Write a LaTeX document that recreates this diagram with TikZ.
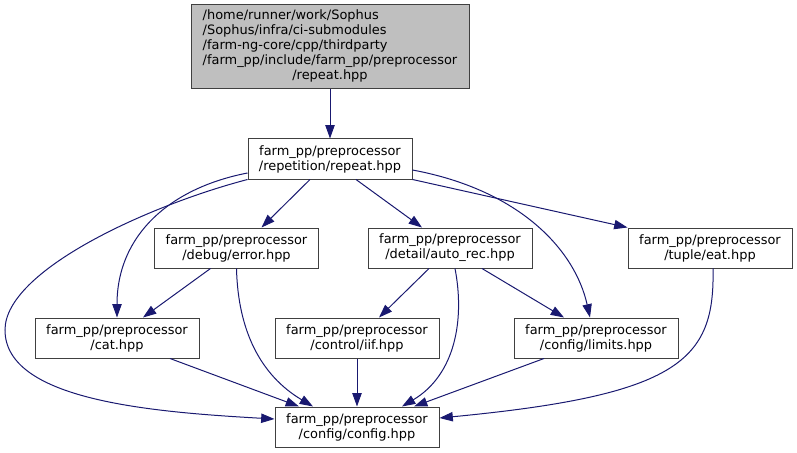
\documentclass[tikz,border=0pt]{standalone}
\usepackage{fontspec}
\setmainfont{DejaVu Sans}
\usetikzlibrary{arrows.meta,calc}
\definecolor{NodeLine}{HTML}{404040}
\definecolor{NodeGrey}{HTML}{BFBFBF}
\definecolor{EdgeBlue}{HTML}{191970}
\tikzset{
    % plain file boxes
    filebox/.style={
        rectangle,
        draw=NodeLine,
        fill=white,
        line width=0.75pt,
        minimum width=123pt,
        minimum height=30pt,
        inner sep=0pt,
        align=center,
        font=\fontsize{9.7}{11.25}\selectfont
    },
    mainbox/.style={
        filebox,
        fill=NodeGrey,
        minimum width=208.5pt,
        minimum height=63pt
    },
    edge/.style={
        -{Triangle[length=10pt,width=7pt]},
        line width=0.75pt,
        color=EdgeBlue
    }
}
\begin{document}
\begin{tikzpicture}[x=0.75pt,y=-0.75pt]
    \useasboundingbox (0,0) rectangle (797,453);
    \node[mainbox] (top) at (330,47) {%
        \begin{tabular}{@{}l@{}}
            /home/runner/work/Sophus\\
            /Sophus/infra/ci-submodules\\
            /farm-ng-core/cpp/thirdparty\\
            /farm\_pp/include/farm\_pp/preprocessor\\
            \multicolumn{1}{@{}c@{}}{/repeat.hpp}
        \end{tabular}};
    \node[filebox] (repeat) at (330,159) {farm\_pp/preprocessor\\/repetition/repeat.hpp};
    \node[filebox] (error) at (236.5,248) {farm\_pp/preprocessor\\/debug/error.hpp};
    \node[filebox] (autorec) at (450,248) {farm\_pp/preprocessor\\/detail/auto\_rec.hpp};
    \node[filebox] (eat) at (710,248) {farm\_pp/preprocessor\\/tuple/eat.hpp};
    \node[filebox] (cat) at (117,338) {farm\_pp/preprocessor\\/cat.hpp};
    \node[filebox] (iif) at (357,338) {farm\_pp/preprocessor\\/control/iif.hpp};
    \node[filebox] (limits) at (596,338) {farm\_pp/preprocessor\\/config/limits.hpp};
    \node[filebox] (config) at (357,427) {farm\_pp/preprocessor\\/config/config.hpp};

    \draw[edge] (top) -- (repeat);
    \draw[edge] ($(repeat.south)+(-20,0)$) -- ($(error.north)+(25,0)$);
    \draw[edge] ($(repeat.south)+(26,0)$) -- ($(autorec.north)+(-28,0)$);
    \draw[edge] (repeat.south east) -- (eat.north west);
    \draw[edge] ($(repeat.east)+(0,11)$) .. controls (520,190) and (575,250) .. ($(limits.north)+(-6,0)$);
    \draw[edge] ($(repeat.west)+(0,14)$) .. controls (170,188) and (117,235) .. (cat.north);
    \draw[edge] (repeat.south west) .. controls (150,205) and (5,270) .. (5,330)
        .. controls (5,400) and (150,412) .. ($(config.west)+(0,-8)$);
    \draw[edge] ($(error.south)+(-26,0)$) -- ($(cat.north)+(26,0)$);
    \draw[edge] (error.south) .. controls (238,330) and (260,375) .. ($(config.north)+(-44,0)$);
    \draw[edge] ($(cat.south)+(53,0)$) -- ($(config.north)+(-58,0)$);
    \draw[edge] (iif) -- (config);
    \draw[edge] ($(autorec.south)+(-21,0)$) -- ($(iif.north)+(22,0)$);
    \draw[edge] ($(autorec.south)+(5,0)$) .. controls (465,320) and (455,375) .. ($(config.north)+(45,0)$);
    \draw[edge] ($(autorec.south)+(32,0)$) -- ($(limits.north)+(-32,0)$);
    \draw[edge] ($(limits.south)+(-52,0)$) -- ($(config.north)+(57,0)$);
    \draw[edge] ($(eat.south)+(3,0)$) .. controls (715,360) and (680,395) .. ($(config.east)+(0,-9)$);
\end{tikzpicture}
\end{document}
